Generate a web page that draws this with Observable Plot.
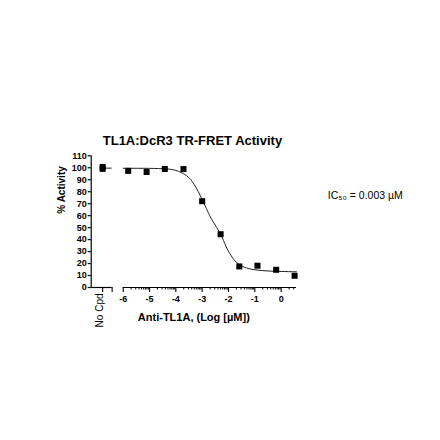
<!DOCTYPE html>
<html>
<head>
<meta charset="utf-8">
<script src="https://cdn.jsdelivr.net/npm/d3@7"></script>
<script src="https://cdn.jsdelivr.net/npm/@observablehq/plot@0.6"></script>
<style>
  html, body { margin: 0; padding: 0; background: #fff; }
  svg { display: block; }
</style>
</head>
<body>
<div id="chart"></div>
<script>
// ---- data ----
const titleText = "TL1A:DcR3 TR-FRET Activity";
const xLabel = "Anti-TL1A, (Log [µM])";
const yLabel = "% Activity";
const noCpdLabel = "No Cpd";
const ic50Label = "IC₅₀ = 0.003 µM";

const logConc = [-5.81, -5.11, -4.42, -3.71, -3.0, -2.30, -1.59, -0.90, -0.19, 0.51];
const activity = [97.4, 96.5, 99.0, 98.9, 72.1, 44.5, 17.6, 18.2, 14.8, 9.8];

const noCpdX = -6.78;
const noCpdActivity = [100.7, 99.1];

// fitted curve
const curveX = [-6.0, -5.0, -4.4, -4.0, -3.6, -3.3, -3.0, -2.8, -2.6, -2.3, -2.1, -1.9, -1.7, -1.4, -1.0, -0.5, 0.0, 0.58];
const curveY = [99.6, 99.5, 99.1, 97.8, 93.5, 86.0, 73.5, 64.0, 55.5, 44.5, 34.5, 26.5, 21.0, 17.0, 14.8, 13.8, 13.4, 13.1];
const noCpdLineX = [-6.78, -6.42];
const noCpdLineY = 99.7;

// axis definition
const xDomain = [-7.215, 0.582];
const axisSegStart = [-7.215, -6.0];
const axisSegEnd = [-6.42, 0.582];
const xMajorTicks = [-6, -5, -4, -3, -2, -1, 0];
const yTicks = [0, 10, 20, 30, 40, 50, 60, 70, 80, 90, 100, 110];

// ---- derived tables ----
const points = logConc.map((x, i) => ({x, y: activity[i]}));
const noCpdPoints = noCpdActivity.map(y => ({x: noCpdX, y}));
const curve = curveX.map((x, i) => ({x, y: curveY[i]}));
const segments = axisSegStart.map((s, i) => ({x1: s, x2: axisSegEnd[i]}));
const minorTicks = xMajorTicks.flatMap(n => d3.range(2, 10).map(k => n + Math.log10(k)))
  .filter(v => v < xDomain[1]);

const font = "'Liberation Sans', Arial, Helvetica, sans-serif";

const chart = Plot.plot({
  width: 440,
  height: 440,
  marginLeft: 90.7,
  marginRight: 144,
  marginTop: 155.3,
  marginBottom: 153,
  style: {fontFamily: font, background: "#fff", color: "#000"},
  x: {type: "linear", domain: xDomain, axis: null, label: null},
  y: {domain: [0, 110], axis: null, label: null},
  marks: [
    // y axis
    Plot.ruleX([xDomain[0]], {y1: 0, y2: 110, stroke: "#000", strokeWidth: 1.2}),
    Plot.axisY({ticks: yTicks, label: null, tickSize: 3, tickPadding: 1.5, fontSize: 9, fontWeight: "bold", stroke: "#000", strokeWidth: 1.2}),
    // broken x axis
    Plot.ruleY(segments, {x1: "x1", x2: "x2", y: 0, stroke: "#000", strokeWidth: 1.2}),
    Plot.axisX({ticks: xMajorTicks, label: null, tickSize: 5, tickPadding: 3, tickFormat: d => String(d), fontSize: 9, fontWeight: "bold", stroke: "#000", strokeWidth: 1.1}),
    Plot.axisX({ticks: minorTicks, label: null, tickSize: 2.5, tickFormat: () => "", stroke: "#000", strokeWidth: 1}),
    Plot.axisX({ticks: [noCpdX, axisSegEnd[0]], label: null, tickSize: 5, tickFormat: () => "", stroke: "#000", strokeWidth: 1.1}),
    Plot.text([noCpdLabel], {x: noCpdX, frameAnchor: "bottom", rotate: -90, textAnchor: "end", dy: 6, fontSize: 10, fill: "#000"}),
    // fit
    Plot.line(curve, {x: "x", y: "y", curve: "natural", stroke: "#222", strokeWidth: 1}),
    Plot.ruleY([noCpdLineY], {x1: noCpdLineX[0], x2: noCpdLineX[1], stroke: "#222", strokeWidth: 1}),
    // data
    Plot.dot(noCpdPoints, {x: "x", y: "y", symbol: "square", r: 3.4, fill: "#000", stroke: "none"}),
    Plot.dot(points, {x: "x", y: "y", symbol: "square", r: 3.4, fill: "#000", stroke: "none"}),
    // texts
    Plot.text([titleText], {frameAnchor: "top", dy: -20.5, dx: -1.4, fontSize: 13, fontWeight: "bold", fill: "#000"}),
    Plot.text([xLabel], {frameAnchor: "bottom", dy: 33, fontSize: 11, fontWeight: "bold", fill: "#000"}),
    Plot.text([yLabel], {frameAnchor: "left", rotate: -90, dx: -29.7, dy: -8, fontSize: 10, fontWeight: "bold", fill: "#000"}),
    Plot.text([ic50Label], {frameAnchor: "right", textAnchor: "start", dx: 31.3, dy: -25.7, fontSize: 10.5, fill: "#000"})
  ]
});

document.getElementById("chart").appendChild(chart);
</script>
</body>
</html>
